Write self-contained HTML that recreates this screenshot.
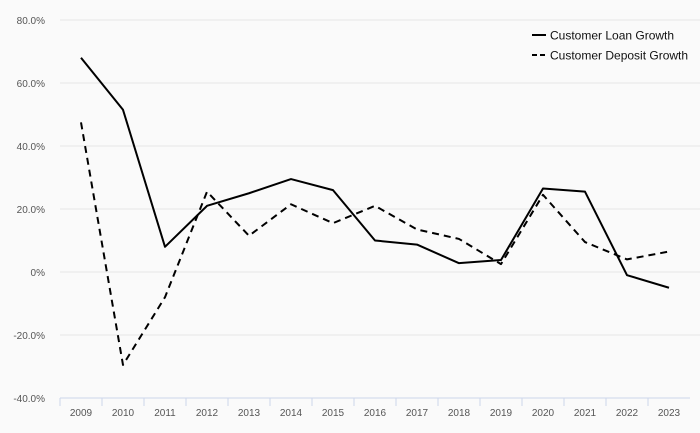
<!DOCTYPE html>
<html><head><meta charset="utf-8"><style>
body{margin:0;background:#fafafa;font-family:"Liberation Sans",sans-serif}
svg{display:block}
</style></head><body>
<svg id="chart" width="700" height="433" xmlns="http://www.w3.org/2000/svg">
<rect width="700" height="433" fill="#fafafa"/>
<g id="grid"></g><g id="axes"></g><g id="series"></g>
<g>
<line x1="532" y1="35" x2="546" y2="35" stroke="#000" stroke-width="2"/>
<text x="550" y="39.5" font-size="12" fill="#111">Customer Loan Growth</text>
<line x1="532" y1="55" x2="546" y2="55" stroke="#000" stroke-width="2" stroke-dasharray="5,3"/>
<text x="550" y="59.5" font-size="12" fill="#111">Customer Deposit Growth</text>
</g>
</svg>
<script>
const years=["2009","2010","2011","2012","2013","2014","2015","2016","2017","2018","2019","2020","2021","2022","2023"];
const loanGrowth=[68,51.5,8,21,25,29.5,26,10,8.7,2.8,3.8,26.5,25.5,-1,-5];
const depositGrowth=[47.5,-29.5,-8,25.5,11.5,21.5,15.5,21,13.5,10.5,2.5,24.5,9.5,4,6.5];
const yTicks=[80,60,40,20,0,-20,-40];
const yTickLabels=["80.0%","60.0%","40.0%","20.0%","0%","-20.0%","-40.0%"];
const NS="http://www.w3.org/2000/svg";
const x0=60,step=42,yZero=272,pxPer=63/20;
function xs(i){return x0+step*(i+0.5);}
function ys(v){return yZero-v*pxPer;}
function mk(t,a,p){const e=document.createElementNS(NS,t);for(const k in a)e.setAttribute(k,a[k]);p.appendChild(e);return e;}
const grid=document.getElementById('grid'),axes=document.getElementById('axes'),ser=document.getElementById('series');
yTicks.forEach((v,i)=>{
 if(v!==-40){const l=mk('line',{x1:x0,x2:700,y1:ys(v),y2:ys(v),stroke:'#e6e6e6','stroke-width':1},grid);
 
 }
 const t=mk('text',{x:45,y:ys(v)+4,'font-size':10,fill:'#555','text-anchor':'end'},axes);
 t.textContent=yTickLabels[i];
 
 
});
const ax=mk('line',{x1:x0,x2:x0+step*years.length,y1:398,y2:398,stroke:'#ccd6eb','stroke-width':1},axes);


years.forEach((y,i)=>{
 const tk=mk('line',{x1:x0+step*i,x2:x0+step*i,y1:398,y2:406,stroke:'#ccd6eb'},axes);
 
 
 const t=mk('text',{x:xs(i),y:416,'font-size':10,fill:'#555','text-anchor':'middle'},axes);
 t.textContent=y;
 
 
});
function line(vals,dash,name){
 const d=vals.map((v,i)=>(i?'L':'M')+xs(i)+','+ys(v)).join(' ');
 const p=mk('path',{d:d,fill:'none',stroke:'#000','stroke-width':2,'stroke-linejoin':'round'},ser);
 if(dash)p.setAttribute('stroke-dasharray','7,5');
 
 
}
line(loanGrowth,false,'loan-growth-line');
line(depositGrowth,true,'deposit-growth-line');
</script>
</body></html>
